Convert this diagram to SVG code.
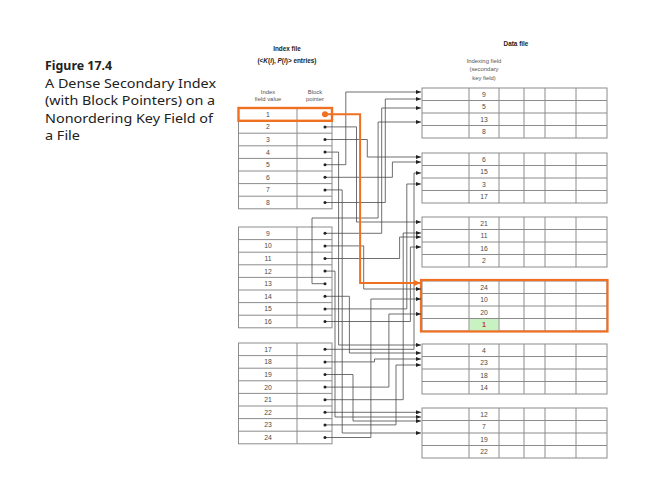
<svg xmlns="http://www.w3.org/2000/svg" width="652" height="491" viewBox="0 0 652 491">
<style>
.t{font-family:"Liberation Sans",Arial,sans-serif;font-size:6.8px;fill:#4a4a4a;text-anchor:middle}
.h{font-family:"Liberation Sans",Arial,sans-serif;font-size:6.4px;fill:#222;font-weight:bold;text-anchor:middle}
.s{font-family:"Liberation Sans",Arial,sans-serif;font-size:5.9px;fill:#555;text-anchor:middle}
.title{font-family:"Noto Sans","Open Sans",sans-serif;font-size:12.8px;fill:#222}
.grid{fill:#fff;stroke:#8c8c8c;stroke-width:1}
.gl{stroke:#8c8c8c;stroke-width:1;fill:none}
.c{fill:none;stroke:#4a4a4a;stroke-width:0.8}
.dot{fill:#222}
</style>
<defs>
<marker id="ar" markerUnits="userSpaceOnUse" markerWidth="5" markerHeight="4" refX="5" refY="2" orient="auto"><path d="M0,0 L5,2 L0,4 z" fill="#222"/></marker>
<marker id="aro" markerUnits="userSpaceOnUse" markerWidth="7" markerHeight="6" refX="7" refY="3" orient="auto"><path d="M0,0 L7,3 L0,6 z" fill="#f07022"/></marker>
</defs>

<g id="caption">
<text class="title" x="45" y="70" font-weight="bold" style="font-size:12.4px">Figure 17.4</text>
<text class="title" x="45" y="87.5" textLength="171" lengthAdjust="spacingAndGlyphs">A Dense Secondary Index</text>
<text class="title" x="45" y="105" textLength="170" lengthAdjust="spacingAndGlyphs">(with Block Pointers) on a</text>
<text class="title" x="45" y="122.5" textLength="168" lengthAdjust="spacingAndGlyphs">Nonordering Key Field of</text>
<text class="title" x="45" y="140" textLength="35" lengthAdjust="spacingAndGlyphs">a File</text>
</g>

<g id="headers">
<text class="h" x="287" y="51">Index file</text>
<text class="h" x="287" y="63">(&lt;<tspan font-style="italic">K</tspan>(<tspan font-style="italic">i</tspan>), <tspan font-style="italic">P</tspan>(<tspan font-style="italic">i</tspan>)&gt; entries)</text>
<text class="s" x="268" y="94">Index</text>
<text class="s" x="268" y="101">field value</text>
<text class="s" x="315" y="94">Block</text>
<text class="s" x="315" y="101">pointer</text>
<text class="h" x="516" y="46">Data file</text>
<text class="s" x="484" y="63">Indexing field</text>
<text class="s" x="484" y="71">(secondary</text>
<text class="s" x="484" y="80">key field)</text>
</g>

<g id="index-block-1">
<rect class="grid" x="238.5" y="108" width="93.5" height="100.8"/>
<path class="gl" d="M297,108V208.8 M238.5,120.6H332 M238.5,133.2H332 M238.5,145.8H332 M238.5,158.4H332 M238.5,171H332 M238.5,183.6H332 M238.5,196.2H332"/>
<text class="t" x="268" y="116.8">1</text><text class="t" x="268" y="129.4">2</text><text class="t" x="268" y="142">3</text><text class="t" x="268" y="154.6">4</text>
<text class="t" x="268" y="167.2">5</text><text class="t" x="268" y="179.8">6</text><text class="t" x="268" y="192.4">7</text><text class="t" x="268" y="205">8</text>
</g>
<g id="index-block-2">
<rect class="grid" x="238.5" y="227" width="93.5" height="100.8"/>
<path class="gl" d="M297,227V327.8 M238.5,239.6H332 M238.5,252.2H332 M238.5,264.8H332 M238.5,277.4H332 M238.5,290H332 M238.5,302.6H332 M238.5,315.2H332"/>
<text class="t" x="268" y="235.8">9</text><text class="t" x="268" y="248.4">10</text><text class="t" x="268" y="261">11</text><text class="t" x="268" y="273.6">12</text>
<text class="t" x="268" y="286.2">13</text><text class="t" x="268" y="298.8">14</text><text class="t" x="268" y="311.4">15</text><text class="t" x="268" y="324">16</text>
</g>
<g id="index-block-3">
<rect class="grid" x="238.5" y="343" width="93.5" height="100.8"/>
<path class="gl" d="M297,343V443.8 M238.5,355.6H332 M238.5,368.2H332 M238.5,380.8H332 M238.5,393.4H332 M238.5,406H332 M238.5,418.6H332 M238.5,431.2H332"/>
<text class="t" x="268" y="351.8">17</text><text class="t" x="268" y="364.4">18</text><text class="t" x="268" y="377">19</text><text class="t" x="268" y="389.6">20</text>
<text class="t" x="268" y="402.2">21</text><text class="t" x="268" y="414.8">22</text><text class="t" x="268" y="427.4">23</text><text class="t" x="268" y="440">24</text>
</g>

<g id="data-block-1">
<rect class="grid" x="422" y="88" width="185" height="50"/>
<path class="gl" d="M469,88V138 M499,88V138 M524,88V138 M545,88V138 M576,88V138 M422,100.5H607 M422,113H607 M422,125.5H607"/>
<text class="t" x="484" y="96.7">9</text><text class="t" x="484" y="109.2">5</text><text class="t" x="484" y="121.7">13</text><text class="t" x="484" y="134.2">8</text>
</g>
<g id="data-block-2">
<rect class="grid" x="422" y="153" width="185" height="50"/>
<path class="gl" d="M469,153V203 M499,153V203 M524,153V203 M545,153V203 M576,153V203 M422,165.5H607 M422,178H607 M422,190.5H607"/>
<text class="t" x="484" y="161.7">6</text><text class="t" x="484" y="174.2">15</text><text class="t" x="484" y="186.7">3</text><text class="t" x="484" y="199.2">17</text>
</g>
<g id="data-block-3">
<rect class="grid" x="422" y="217" width="185" height="50"/>
<path class="gl" d="M469,217V267 M499,217V267 M524,217V267 M545,217V267 M576,217V267 M422,229.5H607 M422,242H607 M422,254.5H607"/>
<text class="t" x="484" y="225.7">21</text><text class="t" x="484" y="238.2">11</text><text class="t" x="484" y="250.7">16</text><text class="t" x="484" y="263.2">2</text>
</g>
<g id="data-block-4">
<rect class="grid" x="422" y="281" width="185" height="50"/>
<rect x="469.5" y="318.5" width="29" height="12" fill="#c9f2c2"/>
<path class="gl" d="M469,281V331 M499,281V331 M524,281V331 M545,281V331 M576,281V331 M422,293.5H607 M422,306H607 M422,318.5H607"/>
<text class="t" x="484" y="289.7">24</text><text class="t" x="484" y="302.2">10</text><text class="t" x="484" y="314.7">20</text>
<text class="t" x="484" y="327.4" style="fill:#c0392b;font-weight:bold;font-size:7.2px">1</text>
<rect x="421" y="280" width="186.5" height="51.5" fill="none" stroke="#f07022" stroke-width="2.2"/>
</g>
<g id="data-block-5">
<rect class="grid" x="422" y="344" width="185" height="50"/>
<path class="gl" d="M469,344V394 M499,344V394 M524,344V394 M545,344V394 M576,344V394 M422,356.5H607 M422,369H607 M422,381.5H607"/>
<text class="t" x="484" y="352.7">4</text><text class="t" x="484" y="365.2">23</text><text class="t" x="484" y="377.7">18</text><text class="t" x="484" y="390.2">14</text>
</g>
<g id="data-block-6">
<rect class="grid" x="422" y="408" width="185" height="50"/>
<path class="gl" d="M469,408V458 M499,408V458 M524,408V458 M545,408V458 M576,408V458 M422,420.5H607 M422,433H607 M422,445.5H607"/>
<text class="t" x="484" y="416.7">12</text><text class="t" x="484" y="429.2">7</text><text class="t" x="484" y="441.7">19</text><text class="t" x="484" y="454.2">22</text>
</g>

<g id="connectors">
<path class="c" marker-end="url(#ar)" d="M325,126.9H356.5V222H421"/>
<path class="c" marker-end="url(#ar)" d="M325,139.5H367.3V157H421"/>
<path class="c" marker-end="url(#ar)" d="M325,152.1H338.6V345H421"/>
<path class="c" marker-end="url(#ar)" d="M325,164.7H345.8V92H421"/>
<path class="c" marker-end="url(#ar)" d="M325,177.3H392.4V162H421"/>
<path class="c" marker-end="url(#ar)" d="M325,189.9H342.2V433H421"/>
<path class="c" marker-end="url(#ar)" d="M325,202.5H385.3V99H421"/>
<path class="c" marker-end="url(#ar)" d="M325,233.3H381.7V108H421"/>
<path class="c" marker-end="url(#ar)" d="M325,245.9H363.7V289H421"/>
<path class="c" marker-end="url(#ar)" d="M325,258.5H399.6V237H421"/>
<path class="c" marker-end="url(#ar)" d="M325,271.1H335V417H421"/>
<path class="c" marker-end="url(#ar)" d="M325,283.7H312V218H378.1V122H421"/>
<path class="c" marker-end="url(#ar)" d="M325,296.3H349.4V353H421"/>
<path class="c" marker-end="url(#ar)" d="M325,308.9H406.8V184H421"/>
<path class="c" marker-end="url(#ar)" d="M325,321.5H410.4V247H421"/>
<path class="c" marker-end="url(#ar)" d="M325,349.3H414V173H421"/>
<path class="c" marker-end="url(#ar)" d="M325,361.9H374.5V359H421"/>
<path class="c" marker-end="url(#ar)" d="M325,374.5H353V421H421"/>
<path class="c" marker-end="url(#ar)" d="M325,387.1H388.9V314H421"/>
<path class="c" marker-end="url(#ar)" d="M325,399.7H403.2V233H421"/>
<path class="c" marker-end="url(#ar)" d="M325,412.3H421"/>
<path class="c" marker-end="url(#ar)" d="M325,424.9H396V365H421"/>
<path class="c" marker-end="url(#ar)" d="M325,437.5H370.9V299H421"/>
<path fill="none" stroke="#f07022" stroke-width="2" marker-end="url(#aro)" d="M325,114.3H360.1V283H421"/>
</g>

<g id="pointer-dots">
<circle class="dot" cx="325" cy="126.9" r="1.5"/><circle class="dot" cx="325" cy="139.5" r="1.5"/><circle class="dot" cx="325" cy="152.1" r="1.5"/>
<circle class="dot" cx="325" cy="164.7" r="1.5"/><circle class="dot" cx="325" cy="177.3" r="1.5"/><circle class="dot" cx="325" cy="189.9" r="1.5"/><circle class="dot" cx="325" cy="202.5" r="1.5"/>
<circle class="dot" cx="325" cy="233.3" r="1.5"/><circle class="dot" cx="325" cy="245.9" r="1.5"/><circle class="dot" cx="325" cy="258.5" r="1.5"/><circle class="dot" cx="325" cy="271.1" r="1.5"/>
<circle class="dot" cx="325" cy="283.7" r="1.5"/><circle class="dot" cx="325" cy="296.3" r="1.5"/><circle class="dot" cx="325" cy="308.9" r="1.5"/><circle class="dot" cx="325" cy="321.5" r="1.5"/>
<circle class="dot" cx="325" cy="349.3" r="1.5"/><circle class="dot" cx="325" cy="361.9" r="1.5"/><circle class="dot" cx="325" cy="374.5" r="1.5"/><circle class="dot" cx="325" cy="387.1" r="1.5"/>
<circle class="dot" cx="325" cy="399.7" r="1.5"/><circle class="dot" cx="325" cy="412.3" r="1.5"/><circle class="dot" cx="325" cy="424.9" r="1.5"/><circle class="dot" cx="325" cy="437.5" r="1.5"/>
</g>

<g id="highlight-entry-1">
<rect x="238.5" y="108" width="93.5" height="12.8" fill="none" stroke="#f07022" stroke-width="2.4"/>
<circle cx="325" cy="114.3" r="3" fill="#f07022"/>
</g>
</svg>
